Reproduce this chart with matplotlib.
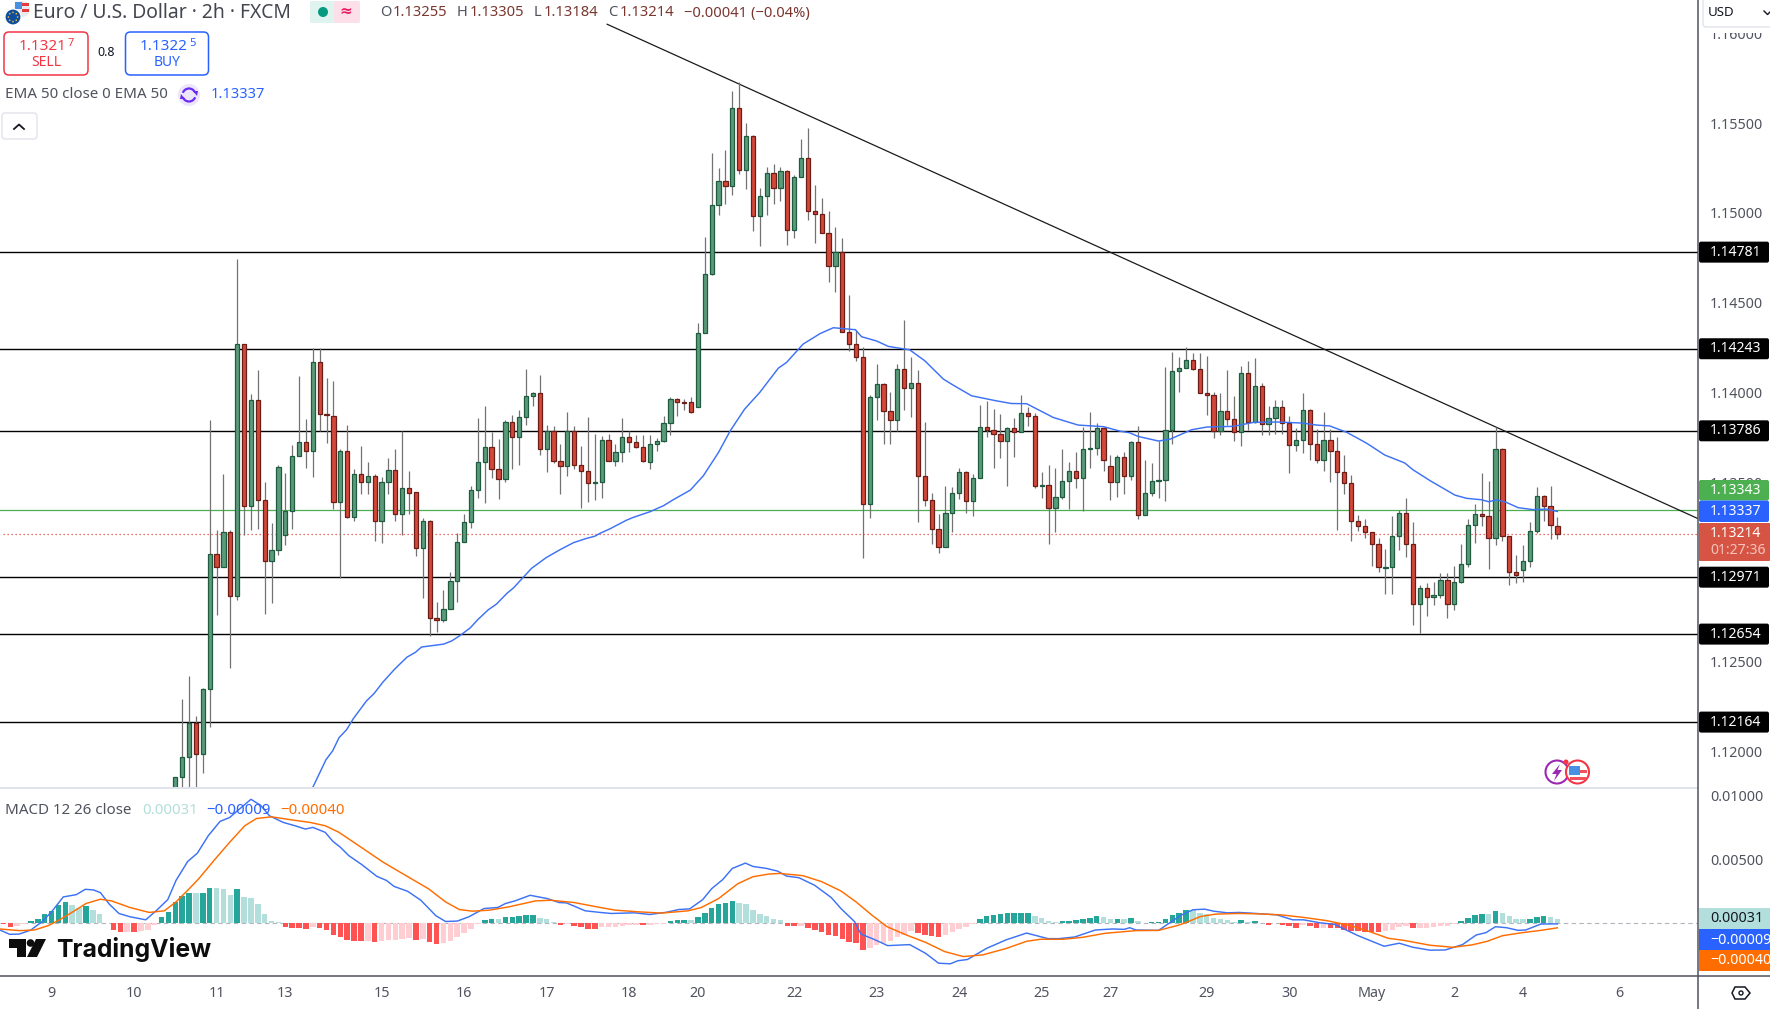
import numpy as np
import matplotlib
matplotlib.use("Agg")
import matplotlib.pyplot as plt
from matplotlib.patches import FancyBboxPatch, Rectangle, Circle, Polygon, Arc

W, H = 1770, 1009
plt.rcParams['font.family'] = ['Noto Sans', 'DejaVu Sans']

# prices in units of 0.00001, one entry per 2h candle
opens = [
    111751,111857,111968,112157,111984,112346,113098,113026,113221,112865,
    114267,113366,113955,113398,113060,113125,113207,113342,113648,113722,
    113676,114167,113877,113871,113388,113676,113308,113543,113503,113537,
    113286,113499,113570,113320,113465,113443,113131,113286,112741,112733,
    112791,112952,113169,113276,113459,113610,113694,113576,113515,113837,
    113749,113865,113982,113994,113682,113783,113620,113592,113783,113598,
    113564,113493,113503,113737,113616,113666,113749,113722,113698,113614,
    113710,113732,113827,113961,113946,113944,113916,114328,114662,115046,
    115175,115152,115581,115236,115425,114980,115091,115219,115136,115230,
    114902,115202,115303,115008,114996,114885,114701,114781,114339,114272,
    114195,113376,113972,114044,113899,113849,114128,114022,114055,113532,
    113398,113237,113137,113326,113437,113554,113393,113521,113805,113792,
    113766,113727,113799,113777,113883,113866,113476,113482,113354,113415,
    113504,113560,113526,113686,113688,113799,113588,113499,113638,113532,
    113722,113315,113438,113508,113510,113788,114117,114134,114178,114128,
    113994,113983,113783,113894,113853,113777,114106,113833,114033,113822,
    113855,113917,113827,113705,113733,113900,113711,113621,113733,113672,
    113555,113493,113282,113254,113221,113154,113024,113026,113198,113326,
    113154,112820,112909,112859,112870,112953,112820,112942,113042,113260,
    113321,113310,113187,113683,113198,112998,113009,113059,113226,113421,
    113369,113255]
highs = [
    111861,112292,112419,112197,112352,113845,113233,113545,113233,114740,
    114267,113990,114124,113501,113272,113594,113551,113706,114090,113851,
    114245,114245,114080,114062,113684,113817,113573,113700,113610,113543,
    113527,113634,113684,113785,113560,113443,113298,113292,112831,112898,
    112998,113218,113322,113477,113855,113922,113779,113739,113845,113873,
    113900,114129,114002,114095,113817,113811,113711,113890,113811,113700,
    113863,113767,113755,113767,113711,113857,113785,113761,113761,113762,
    113745,113868,113972,113966,113963,113972,114386,114863,115332,115249,
    115349,115676,115731,115499,115431,115137,115254,115271,115254,115236,
    115208,115410,115475,115154,115082,115008,114920,114859,114540,114349,
    114250,113983,114157,114055,114000,114157,114401,114196,114122,113833,
    113437,113320,113480,113471,113578,113564,113543,113929,113951,113907,
    113879,113805,113855,113983,113916,113883,113554,113593,113577,113684,
    113612,113666,113805,113888,113827,113810,113649,113649,113666,113731,
    113811,113623,113605,113731,114141,114223,114195,114251,114219,114219,
    114200,114000,113994,114124,113980,114145,114173,114189,114050,113922,
    113956,113956,113866,113800,113994,113905,113794,113889,113794,113749,
    113649,113538,113315,113293,113221,113187,113128,113310,113345,113410,
    113278,112925,112937,112942,112992,112992,113031,113154,113293,113376,
    113549,113504,113805,113688,113198,113092,113148,113278,113471,113430,
    113477,113305]
lows = [
    111672,111672,111751,111751,111880,112139,112761,113026,112467,112845,
    113207,113233,113241,112765,112829,113095,113151,113241,113648,113581,
    113531,113785,113720,113352,112964,113302,113282,113435,113435,113173,
    113163,113435,113282,113207,113322,113089,112855,112646,112666,112719,
    112791,112835,113169,113246,113413,113385,113525,113407,113501,113574,
    113596,113819,113924,113652,113556,113606,113435,113535,113574,113358,
    113391,113401,113413,113616,113590,113614,113668,113692,113610,113573,
    113675,113725,113764,113870,113903,113886,113916,114328,114655,114989,
    115050,115100,115217,115132,114898,114816,114989,115050,115067,114822,
    114861,115197,114961,114833,114885,114616,114560,114339,114232,114174,
    113077,113302,113848,113714,113714,113786,113903,113864,113280,113369,
    113157,113107,113137,113220,113408,113330,113313,113521,113753,113580,
    113636,113480,113641,113777,113814,113469,113411,113157,113220,113404,
    113348,113465,113337,113580,113653,113565,113402,113415,113436,113514,
    113297,113315,113425,113414,113397,113712,114004,114134,114123,113994,
    113874,113746,113762,113818,113729,113701,113788,113827,113764,113764,
    113768,113770,113551,113672,113662,113623,113607,113562,113499,113234,
    113432,113172,113226,113189,113031,112998,112877,112875,113122,113083,
    112705,112658,112755,112816,112855,112744,112788,112938,113029,113161,
    113256,113016,113150,113172,112927,112937,112944,113027,113219,113284,
    113183,113184]
closes = [
    111857,111968,112157,111984,112346,113098,113026,113221,112865,114267,
    113366,113955,113398,113060,113125,113587,113342,113648,113722,113676,
    114167,113877,113875,113388,113676,113308,113543,113503,113537,113286,
    113499,113570,113320,113465,113441,113131,113286,112741,112733,112791,
    112952,113169,113276,113459,113610,113694,113576,113515,113837,113749,
    113865,113982,113994,113682,113783,113620,113592,113783,113598,113564,
    113493,113503,113737,113616,113666,113749,113722,113698,113616,113710,
    113732,113827,113961,113944,113942,113892,114328,114662,115046,115175,
    115152,115581,115236,115425,114980,115091,115219,115136,115230,114902,
    115202,115303,115008,114996,114885,114701,114781,114339,114272,114195,
    113376,113972,114044,113899,113849,114128,114022,114055,113532,113398,
    113237,113137,113326,113437,113554,113393,113521,113805,113792,113766,
    113727,113799,113777,113883,113866,113476,113482,113354,113415,113504,
    113560,113526,113682,113690,113799,113621,113499,113638,113532,113722,
    113315,113438,113504,113510,113788,114117,114134,114178,114128,113994,
    113983,113783,113894,113853,113777,114106,113833,114033,113822,113855,
    113917,113827,113705,113733,113900,113711,113621,113733,113672,113555,
    113493,113282,113254,113221,113154,113026,113026,113198,113326,113154,
    112820,112909,112859,112870,112953,112820,112942,113042,113260,113321,
    113310,113187,113683,113198,112998,112985,113059,113226,113421,113369,
    113260,113214]
level_prices = [1.14781, 1.14243, 1.13786, 1.12971, 1.12654, 1.12164]
ask_line = 1.13343
last_close = 1.13214

trend_x = [62.8, 221.45]
trend_p = [1.16050, 1.13297]

ema_x = [20,21.9,22.9,23.8,24.9,25.9,27.8,28.9,30.2,31.9,33.7,34.9,35.8,39,40.2,41.4,42.9,44,45.5,46.7,
         48.2,49.2,51.8,53.9,55.9,57.9,59.8,61,61.8,63.2,65.6,66.6,69,71,72.4,74.9,76.8,79,80.7,82.8,
         85,87.7,88.9,91.3,93.8,95.7,98.9,99.8,102,103.7,106.8,109,111.7,113.1,115.8,119.4,121.6,123.8,127.7,131.3,
         135,137.4,138.8,140,143,144.7,147.8,150,153.9,156.8,160.2,164,166,167.9,170.4,173.3,175.9,178.8,180,182.5,
         186.1,187.8,190,191,192.2,193.6,195.3,197.5,199.4,201]
ema_p = [111801,111954,112005,112077,112121,112184,112282,112323,112387,112459,112526,112552,112582,112598,112616,112646,112689,112735,112789,112821,
         112880,112912,113020,113079,113123,113163,113187,113199,113216,113240,113288,113304,113335,113369,113402,113456,113536,113666,113786,113907,
         114000,114135,114167,114269,114328,114360,114349,114310,114286,114256,114237,114176,114074,114041,113981,113953,113938,113937,113860,113818,
         113809,113784,113775,113755,113729,113740,113792,113807,113811,113833,113835,113829,113818,113813,113777,113716,113651,113607,113569,113508,
         113428,113410,113402,113391,113402,113387,113358,113347,113350,113337]

# MACD pane, also in 0.00001
macd_hist = [
    -10,-34,-26,-8,10,29,68,94,138,161,
    138,117,130,99,68,-5,-57,-73,-70,-73,
    -62,-57,-18,44,83,164,208,237,232,236,
    271,270,263,216,263,206,198,146,68,13,
    3,-36,-42,-43,-49,-34,-44,-60,-99,-115,
    -135,-143,-144,-143,-151,-143,-135,-134,-125,-120,
    -135,-125,-151,-167,-159,-143,-112,-81,-49,-8,
    21,29,28,44,45,52,60,61,36,29,
    5,-18,-10,-26,-34,-49,-50,-36,-32,-30,
    -22,-20,-18,-19,-18,-10,-8,13,21,22,
    21,44,75,115,146,154,169,154,146,99,
    68,52,29,21,-26,-27,-26,-42,-57,-73,
    -96,-104,-128,-151,-159,-213,-198,-174,-159,-143,
    -112,-96,-65,-81,-96,-104,-112,-96,-73,-49,
    -34,-10,29,52,60,68,75,76,77,78,
    52,36,13,5,13,14,21,29,36,52,
    44,29,30,29,36,13,-5,5,6,29,
    60,75,100,99,75,68,36,29,21,5,
    21,5,13,-3,-18,-5,-18,-26,-39,-18,
    -26,-39,-38,-39,-42,-57,-65,-66,-73,-74,
    -75,-65,-57,-34,-26,-42,-41,-40,-34,-26,
    -25,-10,13,36,60,68,67,91,75,52,
    29,28,29,44,52,44,31]
macd_x = [-25.5,-24.1,-22.7,-21,-19.4,-18,-16.3,-14.4,-13.1,-11.9,-10.9,-9.6,-8.2,-6.6,-4.3,-2.7,-1.1,0.1,1.8,3.2,
          4.8,6.5,7.9,9.3,11,12.4,13.7,15.7,17.4,18.9,20,21.8,22.9,24,25.2,27.1,29.3,30.7,31.8,33.8,
          35.7,37.9,39.3,41,42.7,44.9,46.9,48,49.4,51.6,54.1,55.8,56.9,59.6,61.8,63.4,66.8,69,71.5,73.2,
          74.8,76.7,78,79.6,81,82.9,84,86,87.6,88.9,90.7,93,95.4,96.8,98.8,99.7,101.6,103.6,106.8,109.1,
          111,112.7,113.8,115.2,118,120.8,123.8,126.9,128.5,130.8,133.8,136.3,138,138.8,139.7,143,145.2,146.3,148,149.7,
          151,153,154.7,156.3,160.2,162.5,164.1,166.4,168.6,171.9,175.8,178,180,182.5,184.7,187.2,189.2,190.6,192,193.6,
          195.3,196.4,198.6,201]
macd_v = [-57,-91,-89,-57,8,86,203,221,263,258,237,146,73,47,23,99,182,333,482,547,
          685,797,828,893,971,924,841,789,763,737,750,711,641,594,529,458,365,333,286,247,
          177,55,10,13,47,112,120,151,172,216,190,159,156,94,81,73,78,65,83,104,
          109,182,268,339,427,469,443,427,406,367,354,294,198,112,8,-89,-130,-180,-172,-240,
          -318,-323,-299,-289,-201,-135,-81,-125,-125,-112,-57,-49,-52,-39,-57,-60,21,60,102,107,
          91,78,81,76,62,23,23,0,-13,-99,-185,-161,-193,-216,-214,-172,-96,-78,-31,-39,
          -60,-57,-10,-9]
signal_x = [-25.5,-22.7,-20.5,-18.5,-16.9,-14.9,-13,-10.9,-9.3,-6.6,-3.8,-1.6,0.1,1.8,3.4,5.7,7.9,10.1,11.8,14,
            16.8,19.6,21.8,23.8,26.3,30.2,33.5,36.8,39.3,41.3,43.2,45.7,48.5,52.4,54.6,58,61.8,64,67.3,70.7,
            74.6,76.5,79,81.8,84,86.3,87.9,91.3,94,96.8,99,101.3,103.5,106.3,109.1,111.9,114.6,117.4,120.8,123.8,
            125.8,129.1,131.9,135.2,139.7,143,145.8,146.9,149.1,151.3,154.7,157.5,160.8,164.1,167.5,170.8,173.6,176.4,178.6,182.5,
            185.8,188.6,190.8,193,195.9,198.6,201]
signal_v = [-49,-62,-57,-23,21,86,151,185,172,120,81,94,164,255,346,495,633,763,820,833,
            810,789,763,711,620,477,372,268,164,104,91,99,125,172,177,159,120,99,86,76,
            94,120,190,307,362,383,388,370,323,250,164,60,-31,-96,-154,-227,-266,-253,-203,-146,
            -130,-130,-115,-83,-62,-60,-21,0,49,68,73,70,62,42,16,-21,-68,-122,-138,-177,
            -193,-174,-146,-102,-78,-60,-40]

date_ticks = [-18,-6,6,16,30,42,54,66,76,90,102,114,126,136,150,162,174,186,196,210]
date_labels = ['9','10','11','13','15','16','17','18','20','22','23','24','25','27','29','30','May','2','4','6']
price_ticks = [1.12, 1.125, 1.13, 1.135, 1.14, 1.145, 1.15, 1.155, 1.16]
macd_ticks = [0.005, 0.01]

GREY = '#50535e'
BLUE = '#2962ff'
ORANGE = '#ff6d00'

fig = plt.figure(figsize=(W / 100, H / 100), dpi=100, facecolor='white')
ax = fig.add_axes([0, 1 - 788 / H, 1698 / W, 788 / H])
mx = fig.add_axes([0, 1 - 975 / H, 1698 / W, 186 / H])
XLIM = (-25.5, 221.45)
PLIM = (1.11797, 1.16185)
MLIM = (-0.00411, 0.01052)

o = np.array(opens) / 1e5
h = np.array(highs) / 1e5
l = np.array(lows) / 1e5
c = np.array(closes) / 1e5
x = np.arange(len(o))
up = c >= o

# levels sit behind the candles, ema in front
for p in level_prices:
    ax.axhline(p, color='#000000', lw=1.0, zorder=1)
ax.axhline(ask_line, color='#4caf50', lw=0.9, zorder=1)
ax.plot([-25, 221.45], [last_close, last_close], color='#e0453a', lw=0.9, ls=(0, (1, 2.2)), zorder=1)
ax.plot(trend_x, trend_p, color='#1a1a1a', lw=0.9, zorder=1.5)

ax.vlines(x, l, h, color='#737373', lw=0.9, zorder=2)
ax.bar(x[up], (c - o)[up], bottom=o[up], width=0.62, color='#5b9b7a', edgecolor='#1f5b3f', lw=0.9, zorder=3)
ax.bar(x[~up], (c - o)[~up], bottom=o[~up], width=0.62, color='#d2483a', edgecolor='#6b1d16', lw=0.9, zorder=3)
ax.plot(ema_x, np.array(ema_p) / 1e5, color='#3d72f5', lw=1.05, zorder=4)

ax.set_xlim(XLIM)
ax.set_ylim(PLIM)
ax.set_yticks(price_ticks)
ax.set_yticklabels(['%.5f' % t for t in price_ticks])
ax.yaxis.tick_right()
ax.set_xticks([])

# histogram colour follows sign and direction, like the indicator does
hist = np.array(macd_hist) / 1e5
hx = np.arange(-25, -25 + len(hist))
prev = np.r_[hist[0], hist[:-1]]
cols = []
for v, pv in zip(hist, prev):
    if v >= 0:
        cols.append('#26a69a' if pv < v else '#b2dfdb')
    else:
        cols.append('#ffcdd2' if pv < v else '#ff5252')
mx.bar(hx, hist, width=0.8, color=cols, zorder=2)
mx.plot([-25.5, 221.45], [0, 0], color='#b2b5be', lw=0.8, ls=(0, (4, 3)), zorder=1)
mx.plot(macd_x, np.array(macd_v) / 1e5, color='#3d72f5', lw=1.05, zorder=3)
mx.plot(signal_x, np.array(signal_v) / 1e5, color=ORANGE, lw=1.05, zorder=4)
mx.set_xlim(XLIM)
mx.set_ylim(MLIM)
mx.set_yticks(macd_ticks)
mx.set_yticklabels(['%.5f' % t for t in macd_ticks])
mx.yaxis.tick_right()
mx.set_xticks(date_ticks)
mx.set_xticklabels(date_labels)
mx.get_xticklabels()[date_labels.index('May')].set_fontweight('bold')

for a in (ax, mx):
    for s in a.spines.values():
        s.set_visible(False)
    a.tick_params(axis='y', length=0, pad=8.5, labelsize=10.3, labelcolor=GREY)
    a.tick_params(axis='x', length=0, pad=8, labelsize=10.3, labelcolor=GREY)

# overlay in pixel coords for the toolbar bits and the price badges
ui = fig.add_axes([0, 0, 1, 1], zorder=10)
ui.set_xlim(0, W)
ui.set_ylim(H, 0)
ui.axis('off')
ui.patch.set_alpha(0)


def price_y(p):
    return (PLIM[1] - p) / (PLIM[1] - PLIM[0]) * 788


def txt(px, py, s, color=GREY, size=10.6, ha='left', **kw):
    return ui.text(px, py, s, color=color, fontsize=size, ha=ha, va='center', **kw)


def box(x0, y0, x1, y1, fc='white', ec='none', lw=1.0, r=3):
    p = FancyBboxPatch((x0 + r, y0 + r), x1 - x0 - 2 * r, y1 - y0 - 2 * r,
                       boxstyle='round,pad=%d,rounding_size=%d' % (r, r), fc=fc, ec=ec, lw=lw)
    ui.add_patch(p)
    return p


def badge(py0, py1, fc, s, tc='white'):
    box(1699, py0, 1769, py1, fc=fc, r=2)
    txt(1710, (py0 + py1) / 2, s, color=tc, size=10.1, fontweight='bold')


# frame lines
ui.plot([0, 1698], [788, 788], color='#e0e3eb', lw=1.4)
ui.plot([0, W], [975.5, 975.5], color='#50535e', lw=1.1)
ui.plot([1698, 1698], [0, H], color='#50535e', lw=1.1)

# usd box covers the top half of the highest tick label
ui.add_patch(Rectangle((1699, 0), 71, 33, fc='white', ec='none'))
box(1703, -6, 1775, 27, ec='#e0e3eb')
txt(1708, 12.5, 'USD', color='#131722', size=9.6)
ui.plot([1764, 1767.5, 1771], [11, 14.5, 11], color='#131722', lw=1)

for p in level_prices:
    yy = price_y(p)
    badge(yy - 10.5, yy + 10.5, '#000000', '%.5f' % p)
badge(480, 500.5, '#4caf50', '1.13343')
badge(500.5, 522, BLUE, '1.13337')
box(1699, 523, 1770, 561, fc='#d65443', r=1)
txt(1710, 533.5, '1.13214', color='white', size=10.1, fontweight='bold')
txt(1710, 551, '01:27:36', color='#f5c4bd', size=10.1, fontweight='bold')

ui.add_patch(Rectangle((1699, 908), 71, 21, fc='#b2dfdb', ec='none'))
ui.add_patch(Rectangle((1699, 929), 71, 21, fc=BLUE, ec='none'))
ui.add_patch(Rectangle((1699, 950), 71, 21, fc=ORANGE, ec='none'))
txt(1710, 919, '0.00031', color='#131722', size=10.3)
txt(1710, 940, '\u22120.00009', color='white', size=10.3)
txt(1710, 961, '\u22120.00040', color='white', size=10.3)

# gear at the corner of the time axis
ui.add_patch(Polygon([(1750, 993), (1745, 999), (1735, 999), (1732, 993), (1735, 987), (1745, 987)],
                     closed=True, fc='white', ec='#131722', lw=1.1))
ui.add_patch(Circle((1741, 993), 2, fc='white', ec='#131722', lw=1))

# header
ui.add_patch(Circle((22, 9), 8, fc='#e8e8ee', ec='none'))
ui.add_patch(Rectangle((22, 3), 6.5, 3, fc='#e03c3c', ec='none'))
ui.add_patch(Rectangle((22, 9), 6.5, 3, fc='#e03c3c', ec='none'))
ui.add_patch(Rectangle((15, 2), 7, 7, fc='#4a90e2', ec='none'))
ui.add_patch(Circle((13, 17), 8, fc='#0f4e9c', ec='white', lw=0.8))
for a0 in np.linspace(0, 2 * np.pi, 8, endpoint=False):
    ui.add_patch(Circle((13 + 4.6 * np.cos(a0), 17 + 4.6 * np.sin(a0)), 0.8, fc='#f4c430', ec='none'))
txt(33, 13.5, 'Euro / U.S. Dollar \u00b7 2h \u00b7 FXCM', color='#43464f', size=13.9)

box(310, 1, 336, 23, fc='#dff3ef', r=2)
box(334, 1, 360, 23, fc='#fcdfe8', r=2)
ui.add_patch(Circle((323, 12), 5, fc='#089981', ec='none'))
txt(346, 12.5, '\u2248', color='#e91e63', size=11, ha='center', fontweight='bold')

val_col = '#7a3730'
for px, lab, vx, val in [(380, 'O', 392.7, '1.13255'), (457, 'H', 470, '1.13305'),
                         (534, 'L', 544, '1.13184'), (607.7, 'C', 620, '1.13214')]:
    txt(px, 13, lab, size=10.6)
    txt(vx, 13, val, color=val_col, size=10.6)
txt(684, 13, '\u22120.00041 (\u22120.04%)', color=val_col, size=10.6)

box(4, 32, 88, 75, ec='#f23645', lw=1.1, r=5)
box(125.5, 32, 208.5, 75, ec=BLUE, lw=1.1, r=5)
txt(18.4, 46, '1.1321', color='#f23645', size=11)
txt(67.5, 44, '7', color='#f23645', size=8)
txt(46, 63, 'SELL', color='#f23645', size=10, ha='center')
txt(140, 46, '1.1322', color=BLUE, size=11)
txt(189, 44, '5', color=BLUE, size=8)
txt(167, 63, 'BUY', color=BLUE, size=10, ha='center')
txt(106.5, 52, '0.8', color='#131722', size=9, ha='center')

txt(5, 95, 'EMA 50 close 0 EMA 50', size=10.9)
ui.add_patch(Circle((189, 95), 11, fc='#ede5fb', ec='none'))
ui.add_patch(Arc((189, 95), 13, 13, theta1=200, theta2=340, ec='#6a2cf0', lw=1.6))
ui.add_patch(Arc((189, 95), 13, 13, theta1=20, theta2=160, ec='#6a2cf0', lw=1.6))
ui.add_patch(Polygon([(193, 91), (198, 91), (197, 96)], closed=True, fc='#6a2cf0', ec='none'))
ui.add_patch(Polygon([(185, 99), (180, 99), (181, 94)], closed=True, fc='#6a2cf0', ec='none'))
txt(211, 95, '1.13337', color=BLUE, size=10.6)

box(2, 113, 37, 139, ec='#e0e3eb', r=3)
ui.plot([14, 19, 24], [129, 124.5, 129], color='#131722', lw=1.3)

# macd legend and logo
txt(5, 810, 'MACD 12 26 close', size=10.9)
txt(142, 810, '0.00031', color='#b2dfdb', size=10.8)
txt(206.7, 810, '\u22120.00009', color=BLUE, size=10.8)
txt(280.5, 810, '\u22120.00040', color=ORANGE, size=10.8)

ui.add_patch(Polygon([(9, 939), (26, 939), (26, 957), (17.3, 957), (17.3, 948), (9, 948)], closed=True, fc='#0d0d0d', ec='none'))
ui.add_patch(Circle((30.5, 943), 3.8, fc='#0d0d0d', ec='none'))
ui.add_patch(Polygon([(36, 939), (46, 939), (37, 957), (27, 957)], closed=True, fc='#0d0d0d', ec='none'))
txt(56, 950, 'TradingView', color='#0d0d0d', size=17.8, fontweight='bold', family='Inter')

# economic calendar icons
ui.add_patch(Circle((1557, 772), 11.5, fc='white', ec='#9c27b0', lw=1.5))
ui.add_patch(Polygon([(1560, 764), (1552, 774), (1556.5, 774), (1554, 781), (1562, 770), (1557.5, 770)],
                     closed=True, fc='#9c27b0', ec='none'))
ui.add_patch(Circle((1577.5, 772), 11.5, fc='white', ec='#f23645', lw=1.5))
ui.add_patch(Rectangle((1569, 766), 11, 9, fc='#4a90e2', ec='none'))
ui.add_patch(Rectangle((1580, 770), 7, 3, fc='#f0515a', ec='none'))
ui.add_patch(Rectangle((1570, 777), 16, 3, fc='#f0515a', ec='none'))
ui.add_patch(Circle((1566, 762), 2.5, fc='#f23645', ec='none'))

fig.savefig('out.png', dpi=100)
